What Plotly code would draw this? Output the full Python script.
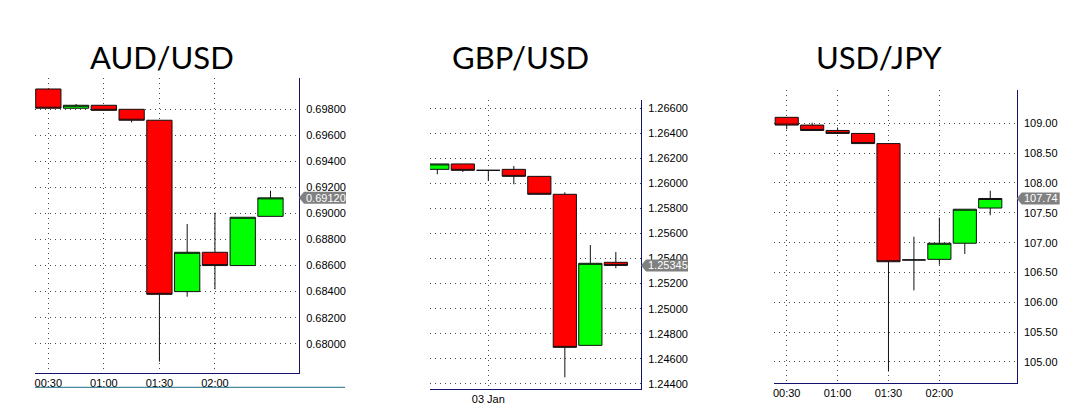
import pandas as pd
import plotly.graph_objects as go

W, H = 1070, 416

# ---------------- data ----------------
# AUD/USD, 15-minute candles
aud_time = ["2019-01-03 00:30", "2019-01-03 00:45", "2019-01-03 01:00", "2019-01-03 01:15",
            "2019-01-03 01:30", "2019-01-03 01:45", "2019-01-03 02:00", "2019-01-03 02:15",
            "2019-01-03 02:30"]
aud_open = [0.69956, 0.69808, 0.69831, 0.69800, 0.69716, 0.68400, 0.68702, 0.68600, 0.68978]
aud_high = [0.69956, 0.69841, 0.69831, 0.69800, 0.69716, 0.68919, 0.69006, 0.68971, 0.69175]
aud_low = [0.69808, 0.69808, 0.69792, 0.69700, 0.67862, 0.68361, 0.68418, 0.68600, 0.68978]
aud_close = [0.69808, 0.69831, 0.69792, 0.69716, 0.68379, 0.68702, 0.68600, 0.68971, 0.69120]
aud_yticks = [0.680, 0.682, 0.684, 0.686, 0.688, 0.690, 0.692, 0.694, 0.696, 0.698]
aud_xticks = ["2019-01-03 00:30", "2019-01-03 01:00", "2019-01-03 01:30", "2019-01-03 02:00"]
aud_xlabels = ["00:30", "01:00", "01:30", "02:00"]

# GBP/USD, 30-minute candles
gbp_time = ["2019-01-02 23:00", "2019-01-02 23:30", "2019-01-03 00:00", "2019-01-03 00:30",
            "2019-01-03 01:00", "2019-01-03 01:30", "2019-01-03 02:00", "2019-01-03 02:30"]
gbp_open = [1.26111, 1.26154, 1.26103, 1.26111, 1.26055, 1.25912, 1.24708, 1.25370]
gbp_high = [1.26154, 1.26154, 1.26103, 1.26138, 1.26055, 1.25928, 1.25508, 1.25452]
gbp_low = [1.26071, 1.26090, 1.26020, 1.25992, 1.25912, 1.24453, 1.24708, 1.25322]
gbp_close = [1.26154, 1.26103, 1.26103, 1.26055, 1.25912, 1.24692, 1.25362, 1.25345]
gbp_yticks = [1.244, 1.246, 1.248, 1.250, 1.252, 1.254, 1.256, 1.258, 1.260, 1.262, 1.264, 1.266]
gbp_xticks = ["2019-01-03 00:00"]
gbp_xlabels = ["03 Jan"]

# USD/JPY, 15-minute candles
jpy_time = aud_time
jpy_open = [109.10, 108.97, 108.88, 108.83, 108.66, 106.71, 106.72, 106.99, 107.58]
jpy_high = [109.10, 109.01, 108.93, 108.83, 108.66, 107.10, 107.42, 107.56, 107.87]
jpy_low = [108.90, 108.88, 108.83, 108.66, 104.84, 106.20, 106.63, 106.81, 107.46]
jpy_close = [108.97, 108.88, 108.83, 108.66, 106.68, 106.71, 106.99, 107.56, 107.74]
jpy_yticks = [105.0, 105.5, 106.0, 106.5, 107.0, 107.5, 108.0, 108.5, 109.0]
jpy_xticks = aud_xticks
jpy_xlabels = aud_xlabels

# ---------------- styling ----------------
NAVY = "#12126c"
GRID = "#4a4a4a"
DOT = "1px,4px"
TICKFONT = dict(family="Liberation Sans, Arial, sans-serif", size=11, color="#000000")
TITLEFONT = dict(family="Lato, Open Sans, sans-serif", size=31, color="#000000")


def px_x(p):
    return p / W


def px_y(p):
    return 1 - p / H


def t_range(start, end):
    return [pd.Timestamp(start).strftime("%Y-%m-%d %H:%M:%S"),
            pd.Timestamp(end).strftime("%Y-%m-%d %H:%M:%S")]


panels = [
    dict(name="AUD/USD", t=aud_time, o=aud_open, h=aud_high, l=aud_low, c=aud_close,
         yt=aud_yticks, fmt=".5f", xt=aud_xticks, xl=aud_xlabels,
         xpx=(35, 299), ypx=(78, 372.7), yr=[0.677773, 0.700404],
         xr=t_range(pd.Timestamp("2019-01-03 00:30") - pd.Timedelta(minutes=7.2),
                    pd.Timestamp("2019-01-03 00:30") + pd.Timedelta(minutes=135.4)),
         title_x=162, lab_fmt="{:.5f}", lab_w=47),
    dict(name="GBP/USD", t=gbp_time, o=gbp_open, h=gbp_high, l=gbp_low, c=gbp_close,
         yt=gbp_yticks, fmt=".5f", xt=gbp_xticks, xl=gbp_xlabels,
         xpx=(430, 641), ypx=(100, 389), yr=[1.243601, 1.266638],
         xr=t_range(pd.Timestamp("2019-01-03 00:00") - pd.Timedelta(minutes=68.6),
                    pd.Timestamp("2019-01-03 00:00") + pd.Timedelta(minutes=179.6)),
         title_x=520, lab_fmt="{:.5f}", lab_w=47),
    dict(name="USD/JPY", t=jpy_time, o=jpy_open, h=jpy_high, l=jpy_low, c=jpy_close,
         yt=jpy_yticks, fmt=".2f", xt=jpy_xticks, xl=jpy_xlabels,
         xpx=(774, 1016.7), ypx=(90, 382.7), yr=[104.653, 109.558],
         xr=t_range(pd.Timestamp("2019-01-03 00:30") - pd.Timedelta(minutes=7.5),
                    pd.Timestamp("2019-01-03 00:30") + pd.Timedelta(minutes=135.6)),
         title_x=878.5, lab_fmt="{:.2f}", lab_w=43),
]

fig = go.Figure()
layout = dict(
    width=W, height=H, margin=dict(l=0, r=0, t=0, b=0),
    paper_bgcolor="white", plot_bgcolor="white",
    showlegend=False, boxgap=0.09, boxgroupgap=0,
)
shapes = []
annotations = []

for i, p in enumerate(panels, start=1):
    xa = "x" if i == 1 else f"x{i}"
    ya = "y" if i == 1 else f"y{i}"
    fig.add_trace(go.Candlestick(
        x=p["t"], open=p["o"], high=p["h"], low=p["l"], close=p["c"],
        xaxis=xa, yaxis=ya, whiskerwidth=0,
        increasing=dict(fillcolor="#00ff00", line=dict(color="#111111", width=1)),
        decreasing=dict(fillcolor="#ff0000", line=dict(color="#111111", width=1)),
        hoverinfo="x+y",
    ))
    xkey = "xaxis" if i == 1 else f"xaxis{i}"
    ykey = "yaxis" if i == 1 else f"yaxis{i}"
    layout[xkey] = dict(
        domain=[px_x(p["xpx"][0]), px_x(p["xpx"][1])], anchor=ya, type="date",
        range=p["xr"], tickvals=p["xt"], ticktext=p["xl"], tickfont=TICKFONT,
        showgrid=True, gridcolor=GRID, griddash=DOT, gridwidth=1,
        showline=True, linecolor=NAVY, linewidth=1, zeroline=False, ticks="",
        rangeslider=dict(visible=False), fixedrange=True,
    )
    layout[ykey] = dict(
        domain=[px_y(p["ypx"][1]), px_y(p["ypx"][0])], anchor=xa, side="right",
        range=p["yr"], tickvals=p["yt"], tickformat=p["fmt"], tickfont=TICKFONT,
        showgrid=True, gridcolor=GRID, griddash=DOT, gridwidth=1,
        showline=True, linecolor=NAVY, linewidth=1, zeroline=False, ticks="",
        ticklabelstandoff=4, fixedrange=True,
    )
    # title
    annotations.append(dict(
        text=p["name"], xref="paper", yref="paper", x=px_x(p["title_x"]), y=px_y(57),
        xanchor="center", yanchor="middle", showarrow=False, font=TITLEFONT,
    ))
    # last-price marker on the price axis
    last = p["c"][-1]
    lw = p["lab_w"]
    shapes.append(dict(
        type="path", xref="paper", yref=ya, xsizemode="pixel", ysizemode="pixel",
        xanchor=px_x(p["xpx"][1]), yanchor=last,
        path=f"M0,0 L5,6 L{lw},6 L{lw},-6 L5,-6 Z",
        fillcolor="#808080", line=dict(width=0), layer="above",
    ))
    annotations.append(dict(
        text=p["lab_fmt"].format(last), xref="paper", yref=ya,
        x=px_x(p["xpx"][1] + 5), y=last, xanchor="left", yanchor="middle",
        showarrow=False, font=dict(family=TICKFONT["family"], size=11, color="white"),
    ))

# rule under the first panel's time labels
shapes.append(dict(type="line", xref="paper", yref="paper",
                   x0=px_x(35), x1=px_x(345), y0=px_y(387.3), y1=px_y(387.3),
                   line=dict(color="#1f6d86", width=1)))

layout["shapes"] = shapes
layout["annotations"] = annotations
fig.update_layout(**layout)
fig.write_html("out.html")
